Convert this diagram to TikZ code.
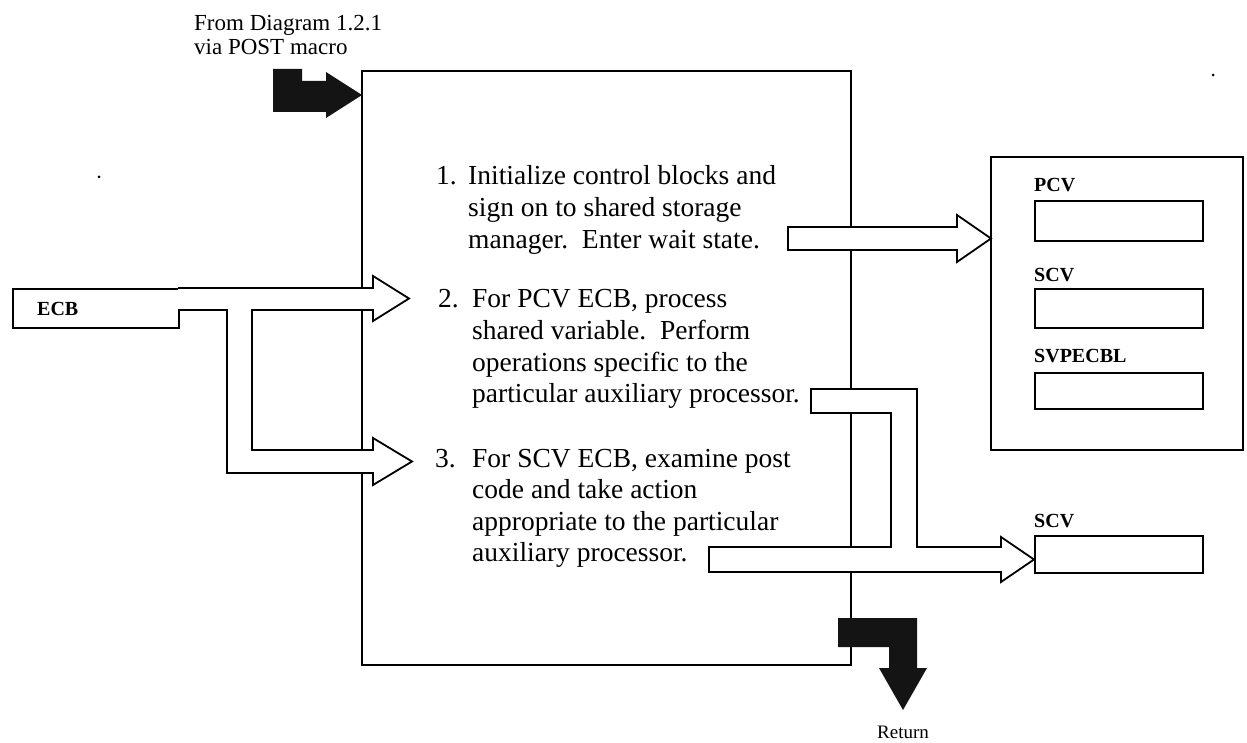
\documentclass[tikz,border=0pt]{standalone}
\usepackage{fontspec}
\setmainfont{Liberation Serif}
\begin{document}
\begin{tikzpicture}[x=1pt,y=-1pt,
  frame/.style={draw=black,line width=2.4pt},
  hollow/.style={draw=black,fill=white,line width=1.8pt,line join=miter},
  solidarrow/.style={fill=black!92},
  body/.style={anchor=base west,inner sep=0pt,font=\fontsize{27.5}{31.6}\selectfont},
  title/.style={anchor=base west,inner sep=0pt,font=\fontsize{23}{24}\selectfont},
  lbl/.style={anchor=base west,inner sep=0pt,font=\fontsize{20}{22}\selectfont\bfseries},
  slot/.style={draw=black,line width=1.8pt,anchor=north west,minimum width=168pt,inner sep=0pt}
]
\fill[white] (0,0) rectangle (1247,743);
\useasboundingbox (0,0) rectangle (1247,743);

% caption of the incoming flow
\node[title] (from1) at (194,31) {From Diagram 1.2.1};
\node[title] (from2) at (194,55) {via POST macro};

% main process box
\coordinate (mainNW) at (362,71);
\coordinate (mainSE) at (851,665);
\draw[frame] (mainNW) rectangle (mainSE);

% entry arrow (solid)
\fill[solidarrow] (273,69) -- (302,69) -- (302,81) -- (326,81) -- (326,72)
  -- (362,95) -- (326,118) -- (326,112) -- (273,112) -- cycle;

% exit arrow (solid) and its label
\fill[solidarrow] (838,618) -- (917,618) -- (917,668) -- (927,668) -- (903,710)
  -- (879,668) -- (889,668) -- (889,647) -- (838,647) -- cycle;
\node[anchor=base,inner sep=0pt,font=\fontsize{19}{20}\selectfont] (ret) at (903,738) {Return};

% ECB input box
\node[slot,minimum width=166pt,minimum height=39pt] (ecb) at (12,288) {};
\node[lbl,font=\fontsize{20}{22}\selectfont\bfseries] (ecbtext) at (37,315) {ECB};

% ECB forks into steps 2 and 3
\path[hollow] (178,288) -- (373,288) -- (373,276) -- (409,298.5) -- (373,321)
  -- (373,310) -- (252,310) -- (252,450) -- (373,450) -- (373,438)
  -- (412,461.5) -- (373,485) -- (373,473) -- (227,473) -- (227,310) -- (178,310);

% step 1 writes to the storage area
\draw[hollow] (788,227) -- (957,227) -- (957,215) -- (991,238.5) -- (957,262)
  -- (957,250) -- (788,250) -- cycle;

% steps 2 and 3 feed the SCV
\draw[hollow] (709,547) -- (891,547) -- (891,413) -- (811,413) -- (811,389)
  -- (917,389) -- (917,547) -- (1001,547) -- (1001,537) -- (1034,559.5)
  -- (1001,582) -- (1001,572) -- (709,572) -- cycle;

% storage area with its three fields
\draw[draw=black,line width=1.8pt] (991,157) rectangle (1243,450);
\node[lbl] (pcvl) at (1034,192) {PCV};
\node[slot,minimum height=40pt] (pcv) at (1034,200) {};
\node[lbl] (scvl) at (1034,282) {SCV};
\node[slot,minimum height=39pt] (scv) at (1034,288) {};
\node[lbl] (svpl) at (1034,362) {SVPECBL};
\node[slot,minimum height=36pt] (svp) at (1034,372) {};

% separate SCV
\node[lbl] (scv2l) at (1034,527) {SCV};
\node[slot,minimum height=37pt] (scv2) at (1034,535) {};

% step texts
\node[body] (n1) at (436,185) {1.};
\foreach \t [count=\i] in {Initialize control blocks and,sign on to shared storage,manager.\ \ Enter wait state.}
  \node[body] (s1\i) at (468,{185+31.6*(\i-1)}) {\t};
\node[body] (n2) at (438,308) {2.};
\foreach \t [count=\i] in {For PCV ECB{,} process,shared variable.\ \ Perform,operations specific to the,particular auxiliary processor.}
  \node[body] (s2\i) at (472,{308+31.6*(\i-1)}) {\t};
\node[body] (n3) at (435,467) {3.};
\foreach \t [count=\i] in {For SCV ECB{,} examine post,code and take action,appropriate to the particular,auxiliary processor.}
  \node[body] (s3\i) at (472,{467+31.6*(\i-1)}) {\t};

% specks
\fill (99,177) circle (1.5);
\fill (1213,75) circle (1.5);
\end{tikzpicture}
\end{document}
